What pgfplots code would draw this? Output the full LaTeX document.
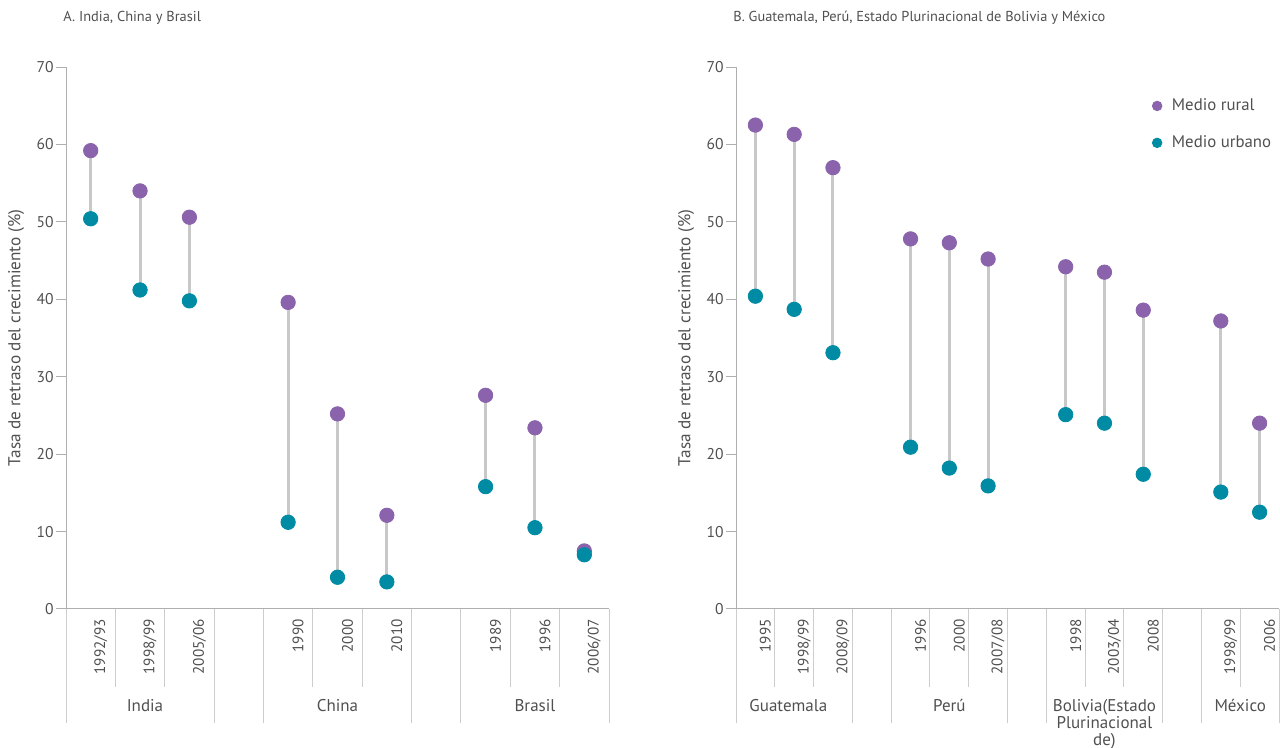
\documentclass[border=0pt]{standalone}
\usepackage{pgfplots}
\pgfplotsset{compat=1.18}
\usepackage{pgfplotstable}
\usepackage{fontspec}
\setmainfont{PT Sans}
\definecolor{rural}{RGB}{138,99,172}
\definecolor{urbano}{RGB}{0,139,164}
\definecolor{txt}{RGB}{80,80,80}
\definecolor{axisgray}{RGB}{175,175,175}
\definecolor{sep}{RGB}{205,205,205}
\definecolor{conn}{RGB}{200,200,200}
\newcommand{\fs}{\fontsize{7.6}{9}\selectfont}
\newcommand{\fy}{\fontsize{7.8}{9}\selectfont}
\newcommand{\fl}{\fontsize{8.6}{10}\selectfont}
\newcommand{\fg}{\fontsize{8.5}{8.4}\selectfont}
\newcommand{\ft}{\fontsize{7.2}{9}\selectfont}
\newcommand{\fleg}{\fontsize{8.4}{10}\selectfont}

\pgfplotstableread{
x rural urbano
0 59.2 50.4
1 54.0 41.2
2 50.6 39.8
4 39.6 11.2
5 25.2 4.1
6 12.1 3.5
8 27.6 15.8
9 23.4 10.5
10 7.5 7.0
}\dataA

\pgfplotstableread{
x rural urbano
0 62.5 40.4
1 61.3 38.7
2 57.0 33.1
4 47.8 20.9
5 47.3 18.2
6 45.2 15.9
8 44.2 25.1
9 43.5 24.0
10 38.6 17.4
12 37.2 15.1
13 24.0 12.5
}\dataB

\tikzset{grp/.style={font=\fg, text=txt, anchor=north, inner sep=0pt, yshift=-45pt, align=center}}

\pgfplotsset{
  panel/.style={
    scale only axis, width=271.5pt, height=271pt,
    ymin=0, ymax=70, ytick={0,10,...,70},
    axis x line*=bottom, axis y line*=left,
    axis line style={draw=axisgray, line width=0.5pt, -},
    tick align=outside, major tick length=5pt,
    ytick style={draw=axisgray, line width=0.5pt},
    xtick style={draw=none},
    /pgf/number format/assume math mode=true,
    xticklabel style={rotate=90, anchor=east, font=\fs, text=txt, inner sep=0pt, yshift=-5pt},
    yticklabel style={font=\fy, text=txt, inner sep=0pt, xshift=-1pt},
    ylabel={Tasa de retraso del crecimiento (\%)},
    every axis y label/.style={at={(axis description cs:-0.092,0.5)}, rotate=90, anchor=center, font=\fl, text=txt, inner sep=0pt},
    clip=false,
  },
  conn/.style={forget plot, draw=none, mark=none,
    error bars/.cd, y dir=minus, y explicit, error mark=none,
    error bar style={draw=conn, line width=1.5pt}},
  dot/.style={only marks, mark=*, mark size=3.6pt, color=#1, mark options={fill=#1, draw=#1}},
}

\begin{document}
\begin{tikzpicture}
\useasboundingbox (0,0) rectangle (640pt,374pt);
\node[anchor=west, inner sep=0pt, font=\ft, text=txt] at (31.5pt,365pt) {A. India, China y Brasil};
\node[anchor=west, inner sep=0pt, font=\ft, text=txt] at (366.5pt,365pt) {B. Guatemala, Perú, Estado Plurinacional de Bolivia y México};

\begin{axis}[panel, at={(33pt,69.5pt)}, anchor=south west,
  xmin=-0.5, xmax=10.5,
  xtick={0,1,2,4,5,6,8,9,10},
  xticklabels={1992/93,1998/99,2005/06,1990,2000,2010,1989,1996,2006/07}]
\addplot[conn] table[x=x, y=rural, y error expr=\thisrow{rural}-\thisrow{urbano}] {\dataA};
\addplot[dot=rural] table[x=x, y=rural] {\dataA};
\addplot[dot=urbano] table[x=x, y=urbano] {\dataA};
\pgfplotsinvokeforeach{0.5,1.5,4.5,5.5,8.5,9.5}{
  \draw[sep, line width=0.5pt] (axis cs:#1,0) -- ++(0pt,-39pt);}
\pgfplotsinvokeforeach{-0.5,2.5,3.5,6.5,7.5,10.5}{
  \draw[sep, line width=0.5pt] (axis cs:#1,0) -- ++(0pt,-57pt);}
\node[grp] at (axis cs:1.1,0) {India};
\node[grp] at (axis cs:5,0) {China};
\node[grp] at (axis cs:9,0) {Brasil};
\end{axis}

\begin{axis}[panel, at={(368pt,69.5pt)}, anchor=south west,
  xmin=-0.5, xmax=13.5,
  xtick={0,1,2,4,5,6,8,9,10,12,13},
  xticklabels={1995,1998/99,2008/09,1996,2000,2007/08,1998,2003/04,2008,1998/99,2006},
  legend style={draw=none, fill=none, at={(0.766,0.95)}, anchor=north west,
    font=\fleg, text=txt, row sep=7pt, inner sep=0pt,
    /tikz/every odd column/.style={column sep=3pt}},
  legend cell align=left,
  legend image code/.code={\draw[#1, mark size=2.4pt] plot coordinates {(0.1cm,0cm)};}]
\addplot[conn] table[x=x, y=rural, y error expr=\thisrow{rural}-\thisrow{urbano}] {\dataB};
\addplot[dot=rural] table[x=x, y=rural] {\dataB};
\addplot[dot=urbano] table[x=x, y=urbano] {\dataB};
\legend{Medio rural, Medio urbano}
\pgfplotsinvokeforeach{0.5,1.5,4.5,5.5,8.5,9.5,12.5}{
  \draw[sep, line width=0.5pt] (axis cs:#1,0) -- ++(0pt,-39pt);}
\pgfplotsinvokeforeach{-0.5,2.5,3.5,6.5,7.5,10.5,11.5,13.5}{
  \draw[sep, line width=0.5pt] (axis cs:#1,0) -- ++(0pt,-57pt);}
\node[grp] at (axis cs:0.85,0) {Guatemala};
\node[grp] at (axis cs:5,0) {Perú};
\node[grp] at (axis cs:9,0) {Bolivia(Estado\\Plurinacional\\de)};
\node[grp] at (axis cs:12.5,0) {México};
\end{axis}
\end{tikzpicture}
\end{document}
